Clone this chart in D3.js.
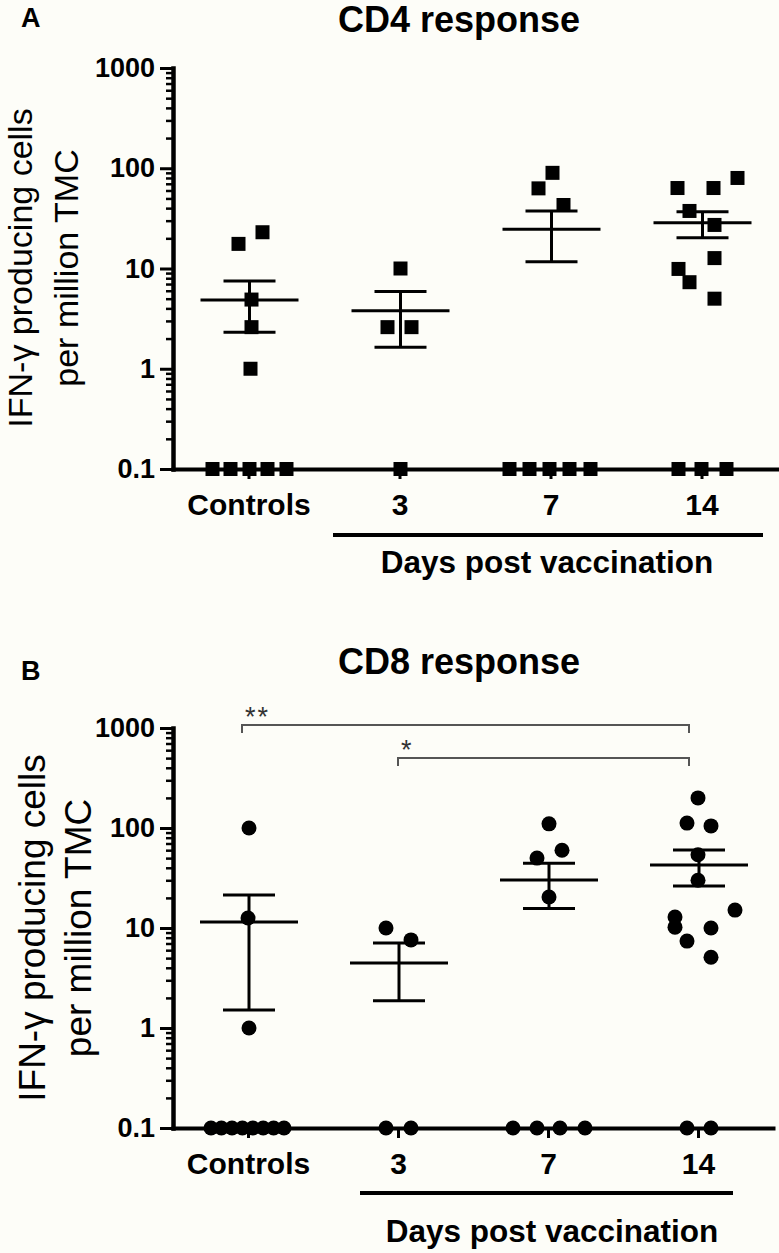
<!DOCTYPE html>
<html><head><meta charset="utf-8">
<script src="https://cdn.jsdelivr.net/npm/d3@7"></script>
<style>
body{margin:0;background:#fdfdf8;}
svg{display:block;font-family:"Liberation Sans",Arial,Helvetica,sans-serif;}
</style>
</head><body>
<svg id="chart" width="779" height="1253"></svg>
<script>
// ---------- DATA ----------
const categories = ["Controls", "3", "7", "14"];
const yTickValues = [0.1, 1, 10, 100, 1000];
const yTickLabels = ["0.1", "1", "10", "100", "1000"];
const groupLabel = "Days post vaccination";
const yLabelLines = ["IFN-\u03b3 producing cells", "per million TMC"];
const panelLetters = ["A", "B"];
const panelTitles = ["CD4 response", "CD8 response"];

// CD4 (squares): values per category; slot = horizontal scatter slot within the column
const cd4Values = [
  [17.6, 23, 4.9, 2.6, 1.0, 0.1, 0.1, 0.1, 0.1, 0.1],
  [10, 2.6, 2.6, 0.1],
  [90, 63, 43, 0.1, 0.1, 0.1, 0.1, 0.1],
  [80, 63.5, 63.5, 37.5, 27.2, 12.7, 9.9, 7.3, 5.0, 0.1, 0.1, 0.1]
];
const cd4Slots = [
  [-0.5, 0.7, 0.15, 0.15, 0.1, -1.8, -0.9, 0.05, 0.95, 1.9],
  [0.05, -0.6, 0.6, 0.05],
  [0.1, -0.6, 0.65, -2.05, -1.05, -0.05, 0.95, 2.0],
  [1.8, -1.2, 0.6, -0.6, 0.65, 0.65, -1.15, -0.6, 0.65, -1.15, 0, 1.25]
];
const cd4Mean  = [4.85, 3.8, 24.6, 28.6];
const cd4Upper = [7.5, 5.9, 37.5, 36.9];
const cd4Lower = [2.31, 1.64, 11.7, 20.3];

// CD8 (circles)
const cd8Values = [
  [100, 12.6, 1.0, 0.1, 0.1, 0.1, 0.1, 0.1, 0.1, 0.1, 0.1],
  [10, 7.6, 0.1, 0.1],
  [110, 60, 50, 20.4, 0.1, 0.1, 0.1, 0.1],
  [200, 112, 105, 54, 30, 15.1, 12.9, 10.2, 10, 7.4, 5.1, 0.1, 0.1]
];
const cd8Slots = [
  [0.05, 0, 0.05, -1.85, -1.33, -0.8, -0.28, 0.24, 0.76, 1.28, 1.8],
  [-0.6, 0.65, -0.6, 0.65],
  [0.05, 0.7, -0.55, 0.05, -1.75, -0.55, 0.6, 1.85],
  [0, -0.55, 0.65, 0, 0, 1.85, -1.15, -1.15, 0.65, -0.55, 0.65, -0.55, 0.65]
];
const cd8Mean  = [11.5, 4.47, 30.2, 42.7];
const cd8Upper = [21.4, 7.08, 44.4, 60.3];
const cd8Lower = [1.51, 1.87, 15.7, 26.3];

const cd8SigFrom   = ["Controls", "3"];
const cd8SigTo     = ["14", "14"];
const cd8SigLabels = ["**", "*"];

// ---------- LAYOUT ----------
const layoutA = {
  top: 68, bottom: 469, left: 173, right: 777,
  letterX: 21, letterY: 27, titleX: 459, titleY: 32,
  yLabelFont: 34, yLabelX: [32, 78], yLabelCY: 268,
  lineY: 535, lineX: [333, 763], groupX: 547, groupY: 573,
  marker: "square"
};
const layoutB = {
  top: 728, bottom: 1128, left: 173, right: 773,
  letterX: 21, letterY: 680, titleX: 459, titleY: 674,
  yLabelFont: 37, yLabelX: [45, 91], yLabelCY: 928,
  lineY: 1193, lineX: [360, 733], groupX: 552, groupY: 1242,
  marker: "circle",
  sigY: [725, 758], sigDx: [-6, 0], sigEndDx: -9
};
const slotUnit = 20;

const svg = d3.select("#chart");
svg.append("rect").attr("width", 779).attr("height", 1253).attr("fill", "#fdfdf8");

function drawPanel(L, idx, values, slots, mean, upper, lower, sig) {
  const g = svg.append("g");
  const y = d3.scaleLog().domain([0.1, 1000]).range([L.bottom, L.top]);
  const x = d3.scalePoint().domain(categories).range([L.left, L.right]).padding(0.5);

  // panel letter & title
  g.append("text").attr("x", L.letterX).attr("y", L.letterY)
    .attr("font-size", 27).attr("font-weight", "bold").text(panelLetters[idx]);
  g.append("text").attr("x", L.titleX).attr("y", L.titleY).attr("text-anchor", "middle")
    .attr("font-size", 36).attr("font-weight", "bold").text(panelTitles[idx]);

  // y label
  yLabelLines.forEach((t, i) => {
    g.append("text")
      .attr("transform", `translate(${L.yLabelX[i]},${L.yLabelCY}) rotate(-90)`)
      .attr("text-anchor", "middle").attr("font-size", L.yLabelFont).text(t);
  });

  // minor ticks
  const minor = [];
  for (let e = -1; e < 3; e++) for (let m = 2; m <= 9; m++) minor.push(+(m * Math.pow(10, e)).toPrecision(3));
  g.append("g").attr("transform", `translate(${L.left},0)`)
    .call(d3.axisLeft(y).tickValues(minor).tickFormat("").tickSize(7).tickSizeOuter(0))
    .call(s => { s.select(".domain").remove(); s.selectAll("line").attr("stroke", "#000").attr("stroke-width", 2.5); });

  // major y axis
  g.append("g").attr("transform", `translate(${L.left},0)`)
    .call(d3.axisLeft(y).tickValues(yTickValues).tickFormat((d, i) => yTickLabels[i])
      .tickSize(13).tickPadding(5).tickSizeOuter(0))
    .call(s => {
      s.select(".domain").attr("stroke", "#000").attr("stroke-width", 4.5).attr("stroke-linecap", "square");
      s.selectAll("line").attr("stroke", "#000").attr("stroke-width", 3);
      s.selectAll("text").attr("font-size", 27).attr("font-weight", "bold").attr("fill", "#000")
        .attr("font-family", "'Liberation Sans',Arial,sans-serif");
    });

  // x axis
  g.append("g").attr("transform", `translate(0,${L.bottom})`)
    .call(d3.axisBottom(x).tickSize(10).tickPadding(15).tickSizeOuter(0))
    .call(s => {
      s.select(".domain").attr("stroke", "#000").attr("stroke-width", 4).attr("stroke-linecap", "square");
      s.selectAll("line").attr("stroke", "#000").attr("stroke-width", 3);
      s.selectAll("text").attr("font-size", 30).attr("font-weight", "bold").attr("fill", "#000")
        .attr("font-family", "'Liberation Sans',Arial,sans-serif");
    });

  // group underline & label
  g.append("line").attr("x1", L.lineX[0]).attr("x2", L.lineX[1])
    .attr("y1", L.lineY).attr("y2", L.lineY).attr("stroke", "#000").attr("stroke-width", 4);
  g.append("text").attr("x", L.groupX).attr("y", L.groupY).attr("text-anchor", "middle")
    .attr("font-size", 31.5).attr("font-weight", "bold").text(groupLabel);

  // points
  const pts = [];
  values.forEach((arr, ci) => arr.forEach((v, j) => pts.push({ c: categories[ci], v, s: slots[ci][j] })));
  if (L.marker === "square") {
    g.append("g").selectAll("rect").data(pts).join("rect")
      .attr("x", d => x(d.c) + d.s * slotUnit - 7).attr("y", d => y(d.v) - 7)
      .attr("width", 14).attr("height", 14).attr("fill", "#000");
  } else {
    g.append("g").selectAll("circle").data(pts).join("circle")
      .attr("cx", d => x(d.c) + d.s * slotUnit).attr("cy", d => y(d.v))
      .attr("r", 7.5).attr("fill", "#000");
  }

  // mean + error bars
  const eb = g.append("g").attr("stroke", "#000").attr("stroke-width", 3);
  categories.forEach((c, i) => {
    const cx = x(c) + 1;
    eb.append("line").attr("x1", cx - 49).attr("x2", cx + 49).attr("y1", y(mean[i])).attr("y2", y(mean[i]));
    eb.append("line").attr("x1", cx).attr("x2", cx).attr("y1", y(upper[i])).attr("y2", y(lower[i]));
    eb.append("line").attr("x1", cx - 26).attr("x2", cx + 26).attr("y1", y(upper[i])).attr("y2", y(upper[i]));
    eb.append("line").attr("x1", cx - 26).attr("x2", cx + 26).attr("y1", y(lower[i])).attr("y2", y(lower[i]));
  });

  // significance brackets
  if (sig) {
    sig.from.forEach((f, i) => {
      const x1 = x(f) + L.sigDx[i], x2 = x(sig.to[i]) + L.sigEndDx, yy = L.sigY[i];
      g.append("path").attr("d", `M${x1},${yy + 8}V${yy}H${x2}V${yy + 8}`)
        .attr("fill", "none").attr("stroke", "#555").attr("stroke-width", 2);
      g.append("text").attr("x", x1 + 3).attr("y", yy + 1).attr("font-size", 27)
        .attr("letter-spacing", 2).attr("fill", "#333").text(sig.labels[i]);
    });
  }
}

drawPanel(layoutA, 0, cd4Values, cd4Slots, cd4Mean, cd4Upper, cd4Lower, null);
drawPanel(layoutB, 1, cd8Values, cd8Slots, cd8Mean, cd8Upper, cd8Lower,
  { from: cd8SigFrom, to: cd8SigTo, labels: cd8SigLabels });
</script>
</body></html>
